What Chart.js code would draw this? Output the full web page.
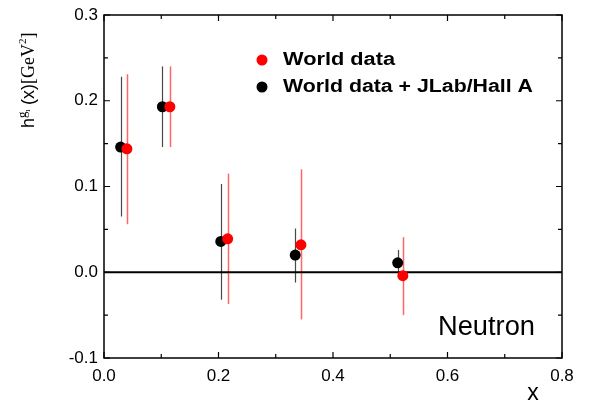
<!DOCTYPE html>
<html>
<head>
<meta charset="utf-8">
<script src="https://cdn.jsdelivr.net/npm/chart.js@4"></script>
<style>
  body { margin: 0; background: #fff; }
</style>
</head>
<body>
<canvas id="myChart" width="594" height="406"></canvas>
<script>
// World data (red)
const xRed = [0.040, 0.115, 0.216, 0.344, 0.522];
const yRed = [0.144, 0.193, 0.039, 0.032, -0.004];
const loRed = [0.056, 0.146, -0.037, -0.055, -0.050];
const hiRed = [0.231, 0.240, 0.115, 0.120, 0.041];

// World data + JLab/Hall A (black)
const xBlack = [0.029, 0.102, 0.204, 0.334, 0.513];
const yBlack = [0.146, 0.193, 0.036, 0.020, 0.011];
const loBlack = [0.065, 0.146, -0.032, -0.012, -0.003];
const hiBlack = [0.228, 0.240, 0.103, 0.051, 0.026];

const xTicks = [0.0, 0.2, 0.4, 0.6, 0.8];
const yTicks = [-0.1, 0.0, 0.1, 0.2, 0.3];
const legendLabels = ['World data', 'World data + JLab/Hall A'];

function toPoints(xs, ys) {
    return xs.map((x, i) => ({ x: x, y: ys[i] }));
}

const sans = '"Liberation Sans", Arial, sans-serif';
const serif = '"Liberation Serif", "Times New Roman", serif';

// error bars + zero line under the points
const errorBars = {
    id: 'errorBars',
    beforeDatasetsDraw(chart) {
        const ctx = chart.ctx;
        const xs = chart.scales.x;
        const ys = chart.scales.y;
        const a = chart.chartArea;
        ctx.save();
        const bars = [
            { x: xBlack, lo: loBlack, hi: hiBlack, color: 'rgba(40,40,40,0.85)', w: 1.2 },
            { x: xRed, lo: loRed, hi: hiRed, color: 'rgba(255,0,0,0.6)', w: 1.5 }
        ];
        bars.forEach(b => {
            ctx.strokeStyle = b.color;
            ctx.lineWidth = b.w;
            b.x.forEach((x, i) => {
                const px = Math.round(xs.getPixelForValue(x)) + 0.5;
                ctx.beginPath();
                ctx.moveTo(px, ys.getPixelForValue(b.lo[i]));
                ctx.lineTo(px, ys.getPixelForValue(b.hi[i]));
                ctx.stroke();
            });
        });
        // zero line
        ctx.strokeStyle = '#000';
        ctx.lineWidth = 2;
        const y0 = ys.getPixelForValue(0);
        ctx.beginPath();
        ctx.moveTo(a.left, y0);
        ctx.lineTo(a.right, y0);
        ctx.stroke();
        ctx.restore();
    }
};

// text squeezed/stretched to a given width
function fitText(ctx, txt, x, y, w) {
    const k = w / ctx.measureText(txt).width;
    ctx.save();
    ctx.translate(x, y);
    ctx.scale(k, 1);
    ctx.fillText(txt, 0, 0);
    ctx.restore();
}

// frame, inward ticks, labels, legend, annotations
const decor = {
    id: 'decor',
    afterDraw(chart) {
        const ctx = chart.ctx;
        const xs = chart.scales.x;
        const ys = chart.scales.y;
        const a = chart.chartArea;
        ctx.save();
        ctx.strokeStyle = '#000';
        ctx.lineWidth = 1.5;
        ctx.strokeRect(a.left, a.top, a.right - a.left, a.bottom - a.top);

        ctx.lineWidth = 1.2;
        // x ticks (major 0.2, minor 0.1), bottom and top
        for (let v = 0; v <= 0.8001; v += 0.1) {
            const px = xs.getPixelForValue(v);
            const major = Math.round(v * 10) % 2 === 0;
            const len = major ? 6 : 4;
            ctx.beginPath();
            ctx.moveTo(px, a.bottom); ctx.lineTo(px, a.bottom - len);
            ctx.moveTo(px, a.top); ctx.lineTo(px, a.top + len);
            ctx.stroke();
        }
        // y ticks (major 0.1, minor 0.05), left and right
        for (let v = -0.1; v <= 0.3001; v += 0.05) {
            const py = ys.getPixelForValue(v);
            const major = Math.round(v * 20) % 2 === 0;
            const len = major ? 6 : 4;
            ctx.beginPath();
            ctx.moveTo(a.left, py); ctx.lineTo(a.left + len, py);
            ctx.moveTo(a.right, py); ctx.lineTo(a.right - len, py);
            ctx.stroke();
        }

        ctx.fillStyle = '#000';
        ctx.font = '17px ' + sans;
        ctx.textBaseline = 'middle';
        ctx.textAlign = 'center';
        xTicks.forEach(v => {
            ctx.fillText(v.toFixed(1), xs.getPixelForValue(v), a.bottom + 18);
        });
        ctx.textAlign = 'right';
        yTicks.forEach(v => {
            ctx.fillText(v.toFixed(1), a.left - 6, ys.getPixelForValue(v));
        });

        // x axis title
        ctx.textAlign = 'center';
        ctx.font = '23px ' + sans;
        ctx.fillText('x', 533, 394);

        // Neutron
        ctx.textAlign = 'left';
        ctx.font = '27px ' + sans;
        fitText(ctx, 'Neutron', 438, 328, 97);

        // legend
        const colors = ['#ff0000', '#000000'];
        const rows = [60, 87];
        const widths = [112, 250];
        ctx.font = 'bold 18px ' + sans;
        legendLabels.forEach((t, i) => {
            ctx.fillStyle = colors[i];
            ctx.beginPath();
            ctx.arc(262, rows[i], 5.5, 0, Math.PI * 2);
            ctx.fill();
            ctx.fillStyle = '#000';
            fitText(ctx, t, 283, rows[i], widths[i]);
        });

        // y axis title, rotated
        ctx.translate(34, 128);
        ctx.rotate(-Math.PI / 2);
        ctx.textAlign = 'left';
        ctx.textBaseline = 'alphabetic';
        let cx = 0;
        const part = (txt, font, dy) => {
            ctx.font = font;
            ctx.fillText(txt, cx, dy);
            cx += ctx.measureText(txt).width;
        };
        part('h', '18px ' + sans, 0);
        part('g', '13px ' + serif, -8);
        cx -= 1;
        part('1', '7px ' + serif, -4);
        cx += 4;
        part('(x)', '18px ' + sans, 0);
        part('[GeV', '18px ' + serif, 0);
        part('2', '11px ' + serif, -8);
        part(']', '18px ' + serif, 0);
        ctx.restore();
    }
};

const ctxChart = document.getElementById('myChart');
const dataChart = {
    datasets: [{
        label: legendLabels[0],
        data: toPoints(xRed, yRed),
        backgroundColor: '#ff0000',
        borderWidth: 0,
        pointRadius: 5.5,
        order: 0
    }, {
        label: legendLabels[1],
        data: toPoints(xBlack, yBlack),
        backgroundColor: '#000000',
        borderWidth: 0,
        pointRadius: 5.5,
        order: 1
    }]
};
const configChart = {
    type: 'scatter',
    data: dataChart,
    options: {
        responsive: false,
        animation: false,
        devicePixelRatio: 1,
        layout: {
            padding: { left: 104, right: 32, top: 15, bottom: 48 }
        },
        scales: {
            x: { type: 'linear', min: 0, max: 0.8, display: false },
            y: { type: 'linear', min: -0.1, max: 0.3, display: false }
        },
        plugins: {
            legend: { display: false },
            tooltip: { enabled: false }
        }
    },
    plugins: [errorBars, decor]
};

new Chart(ctxChart, configChart);
</script>
</body>
</html>
